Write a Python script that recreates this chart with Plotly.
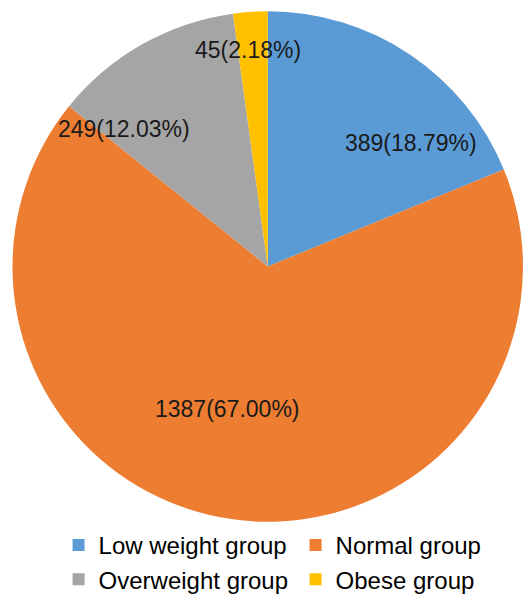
import math
import plotly.graph_objects as go

categories = ["Low weight group", "Normal group", "Overweight group", "Obese group"]
counts = [389, 1387, 249, 45]
percents = [18.79, 67.00, 12.03, 2.18]
colors = ["#5B9BD5", "#ED7D31", "#A5A5A5", "#FFC000"]

W, H = 523, 599
cx, cy, R = 268.0, 266.5, 255.5  # pixel centre / radius of the pie
# label placement (angle clockwise from 12 o'clock in degrees, radius fraction)
label_pos = [(49.1, 0.74), (195.8, 0.58), (313.6, 0.78), (354.7, 0.85)]

fig = go.Figure(go.Pie(
    labels=categories,
    values=counts,
    marker=dict(colors=colors, line=dict(width=0)),
    sort=False,
    direction="clockwise",
    rotation=0,
    textinfo="none",
    hoverinfo="label+value+percent",
    domain=dict(x=[(cx - R) / W, 1.0], y=[(H - cy - R) / H, (H - cy + R) / H]),
))

annotations = []
for c, p, (ang, rf) in zip(counts, percents, label_pos):
    a = math.radians(ang)
    px = cx + rf * R * math.sin(a)
    py = cy - rf * R * math.cos(a)
    annotations.append(dict(
        x=px / W, y=1 - py / H, xref="paper", yref="paper",
        text=f"{c}({p:.2f}%)", showarrow=False,
        font=dict(family="Liberation Sans, Arial", size=23, color="#1a1a1a"),
        xanchor="center", yanchor="middle",
    ))

fig.update_layout(
    width=W, height=H,
    margin=dict(l=0, r=0, t=0, b=0, autoexpand=False),
    paper_bgcolor="white",
    plot_bgcolor="white",
    annotations=annotations,
    showlegend=True,
    legend=dict(
        orientation="h",
        x=0.112, xanchor="left",
        y=-0.005, yanchor="bottom",
        entrywidth=192, entrywidthmode="pixels",
        font=dict(family="Liberation Sans, Arial", size=24, color="#000000"),
        traceorder="normal",
        tracegroupgap=0,
    ),
)

fig.write_html("out.html")
